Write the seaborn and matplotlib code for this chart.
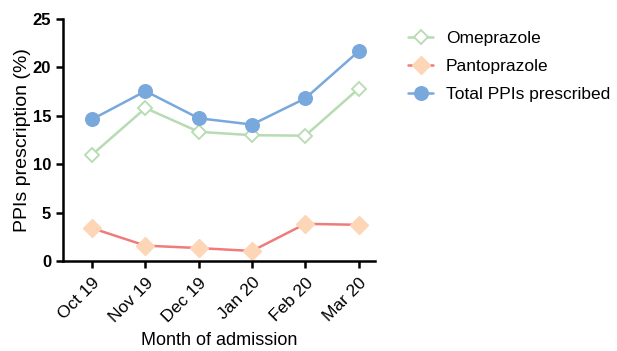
import matplotlib
matplotlib.use("Agg")
import matplotlib.pyplot as plt
import seaborn as sns
import pandas as pd

months = ["Oct 19", "Nov 19", "Dec 19", "Jan 20", "Feb 20", "Mar 20"]
omeprazole = [11.0, 15.8, 13.35, 13.0, 12.95, 17.8]
pantoprazole = [3.4, 1.6, 1.35, 1.05, 3.85, 3.75]
total_ppis = [14.65, 17.55, 14.75, 14.1, 16.8, 21.65]
series_names = ["Omeprazole", "Pantoprazole", "Total PPIs prescribed"]
yticks = [0, 5, 10, 15, 20, 25]

sns.set_style("ticks")
plt.rcParams['font.family'] = ['Liberation Sans', 'DejaVu Sans']

df = pd.DataFrame({
    "month": months * 3,
    "x": list(range(len(months))) * 3,
    "value": omeprazole + pantoprazole + total_ppis,
    "series": [series_names[0]] * 6 + [series_names[1]] * 6 + [series_names[2]] * 6,
})

fig = plt.figure(figsize=(6.17, 3.51), dpi=100)
ax = fig.add_axes([0.102, 0.256, 0.505, 0.69])

styles = {
    "Omeprazole": dict(color="#b7dbb2", marker="D", markersize=7, markerfacecolor="white",
                       markeredgecolor="#b7dbb2", markeredgewidth=1.3),
    "Pantoprazole": dict(color="#f07b7b", marker="D", markersize=9, markerfacecolor="#fdd6b8",
                         markeredgecolor="#fdd6b8", markeredgewidth=1.0),
    "Total PPIs prescribed": dict(color="#79a8dc", marker="o", markersize=10,
                                  markerfacecolor="#79a8dc", markeredgecolor="#79a8dc"),
}
for name in series_names:
    sub = df[df.series == name]
    sns.lineplot(data=sub, x="x", y="value", ax=ax, linewidth=1.8, label=name, **styles[name])

ax.set_xlim(-0.55, 5.3)
ax.set_ylim(0, 25)
ax.set_yticks(yticks)
ax.set_xticks(range(len(months)))
ax.set_xticklabels(months, rotation=45, ha="right", rotation_mode="anchor", fontsize=12.5)
ax.tick_params(axis="y", labelsize=12, width=1.8, length=5, colors="black")
ax.tick_params(axis="x", width=1.8, length=5, colors="black", pad=5)
for lab in ax.get_yticklabels():
    lab.set_fontweight("bold")
ax.set_xlabel("Month of admission", fontsize=13, color="black", labelpad=5)
ax.set_ylabel("PPIs prescription (%)", fontsize=14, color="black", labelpad=1)
sns.despine(ax=ax)
for sp in ["left", "bottom"]:
    ax.spines[sp].set_linewidth(1.8)
    ax.spines[sp].set_color("black")

leg = ax.legend(loc="upper left", bbox_to_anchor=(1.075, 0.995), frameon=False, fontsize=12.5,
                handlelength=1.45, handletextpad=0.7, labelspacing=0.75, borderaxespad=0.2)
for t in leg.get_texts():
    t.set_color("black")

fig.savefig("out.png", dpi=100)
